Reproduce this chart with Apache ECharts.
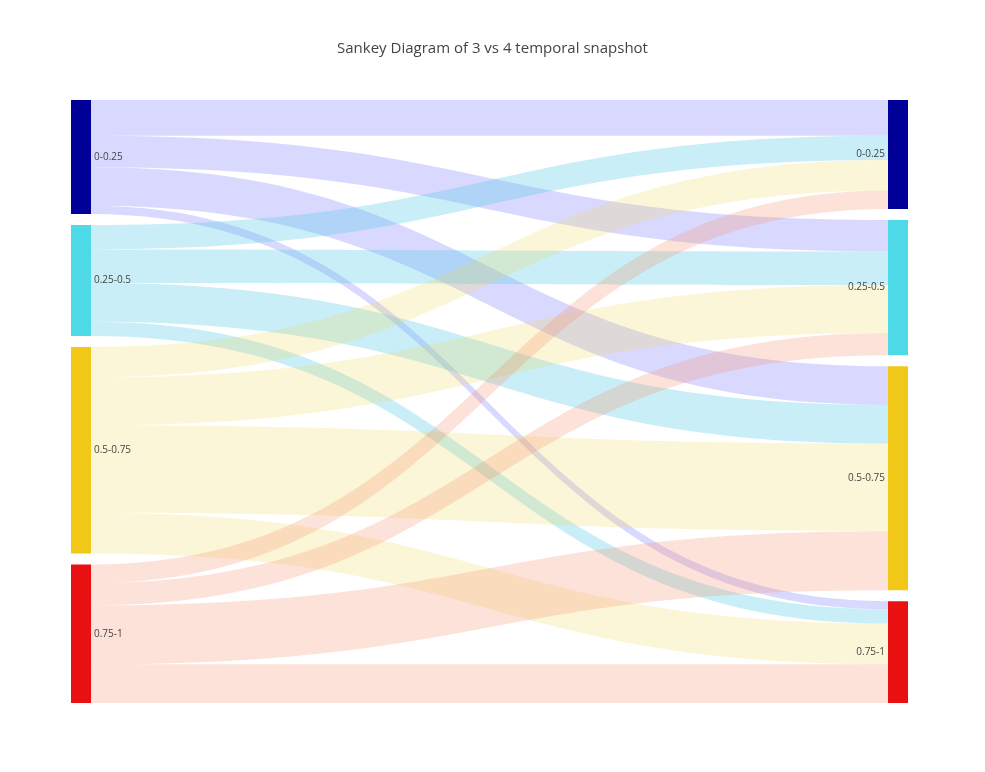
<!DOCTYPE html>
<html>
<head>
<meta charset="utf-8">
<script src="https://cdn.jsdelivr.net/npm/echarts@6/dist/echarts.min.js"></script>
<style>html,body{margin:0;padding:0;background:#fff}#chart{width:985px;height:772px}</style>
</head>
<body>
<div id="chart"></div>
<script>
var bins = ['0-0.25', '0.25-0.5', '0.5-0.75', '0.75-1'];
var nodeColors = ['#000099', '#4dd9e8', '#f1c817', '#e81010'];
var linkColors = ['rgba(0,0,255,0.15)', 'rgba(77,200,230,0.3)', 'rgba(240,210,60,0.2)', 'rgba(245,140,100,0.25)'];
// flows[source][target], snapshot 3 -> snapshot 4
var flows = [
  [35, 31, 38, 8],
  [24, 33, 38, 14],
  [30, 47, 86, 40],
  [18, 22, 58, 38]
];

var nodes = [];
bins.forEach(function (b, i) {
  nodes.push({ name: 'L' + i, depth: 0, itemStyle: { color: nodeColors[i] },
    label: { position: 'right', formatter: b } });
});
bins.forEach(function (b, i) {
  nodes.push({ name: 'R' + i, depth: 1, itemStyle: { color: nodeColors[i] },
    label: { position: 'left', formatter: b } });
});
var links = [];
flows.forEach(function (row, i) {
  row.forEach(function (v, j) {
    links.push({ source: 'L' + i, target: 'R' + j, value: v,
      lineStyle: { color: linkColors[i], opacity: 1 } });
  });
});

var chart = echarts.init(document.getElementById('chart'));
chart.setOption({
  animation: false,
  title: {
    text: 'Sankey Diagram of 3 vs 4 temporal snapshot',
    left: 'center', top: 36,
    textStyle: { fontSize: 15, fontWeight: 'normal', color: '#444', fontFamily: 'Open Sans, sans-serif' }
  },
  series: [{
    type: 'sankey',
    left: 71, right: 77, top: 100, bottom: 69,
    nodeWidth: 20,
    nodeGap: 11,
    layoutIterations: 0,
    nodeAlign: 'justify',
    emphasis: { disabled: true },
    label: { fontSize: 10, color: '#444', fontFamily: 'Open Sans, sans-serif', distance: 3 },
    lineStyle: { curveness: 0.5 },
    data: nodes,
    links: links
  }]
});
</script>
</body>
</html>
